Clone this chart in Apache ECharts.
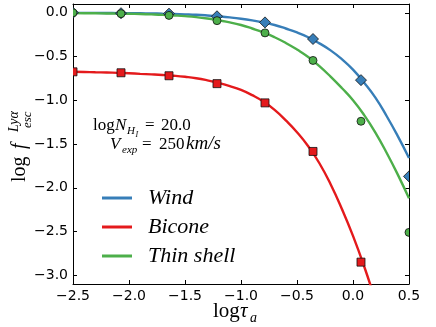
<!DOCTYPE html>
<html>
<head>
<meta charset="utf-8">
<script src="https://cdn.jsdelivr.net/npm/echarts@6/dist/echarts.min.js"></script>
<style>
  html, body { margin: 0; padding: 0; background: #fff; }
  #chart { width: 436px; height: 327px; }
</style>
</head>
<body>
<div id="chart"></div>
<script>
// log(tau_a) positions of the simulation points
const tauPts = [-2.5, -2.0714, -1.6429, -1.2143, -0.7857, -0.3571, 0.0714, 0.5];
const windPts = [0.0, -0.005, -0.01, -0.04, -0.11, -0.30, -0.77, -1.87];
const biconePts = [-0.675, -0.686, -0.72, -0.81, -1.03, -1.585, -2.85];
const shellPts = [0.0, -0.01, -0.03, -0.09, -0.23, -0.545, -1.24, -2.51];

// fitted curves, every 0.1 in log(tau_a)
const curveX = [-2.5, -2.4, -2.3, -2.2, -2.1, -2.0, -1.9, -1.8, -1.7, -1.6, -1.5, -1.4, -1.3, -1.2, -1.1,
  -1.0, -0.9, -0.8, -0.7, -0.6, -0.5, -0.4, -0.3, -0.2, -0.1, 0.0, 0.1, 0.2, 0.3, 0.4, 0.5];
const windCurve = [-0.001, -0.001, -0.002, -0.003, -0.004, -0.005, -0.006, -0.008, -0.011, -0.014, -0.018,
  -0.023, -0.031, -0.041, -0.053, -0.068, -0.087, -0.11, -0.14, -0.18, -0.225, -0.28, -0.35, -0.43, -0.53,
  -0.65, -0.80, -0.97, -1.18, -1.41, -1.66];
const biconeCurve = [-0.675, -0.677, -0.68, -0.683, -0.687, -0.692, -0.698, -0.704, -0.711, -0.72, -0.732,
  -0.748, -0.772, -0.802, -0.838, -0.882, -0.942, -1.015, -1.11, -1.23, -1.365, -1.525, -1.72, -1.96, -2.24,
  -2.55, -2.9, -3.29];
const shellCurve = [-0.004, -0.005, -0.006, -0.008, -0.010, -0.012, -0.015, -0.019, -0.024, -0.031, -0.039,
  -0.05, -0.066, -0.087, -0.11, -0.14, -0.18, -0.225, -0.28, -0.345, -0.42, -0.505, -0.61, -0.73, -0.86,
  -1.0, -1.17, -1.37, -1.6, -1.85, -2.12];

const yTicks = [-3.0, -2.5, -2.0, -1.5, -1.0, -0.5, 0.0];
const names = ['Wind', 'Bicone', 'Thin shell'];
const colors = ['#377eb8', '#e41a1c', '#4daf4a'];

const fmt = v => (v < 0 ? '\u2212' : '') + Math.abs(v).toFixed(1);
const pair = (xs, ys) => ys.map((y, i) => [xs[i], y]);

// math-ish text pieces, base = baseline
const tx = (x, base, s, size, it) => ({
  type: 'text', x: x, y: base - 0.34 * size, silent: true,
  style: {
    text: s, fill: '#000', verticalAlign: 'middle',
    font: (it ? 'italic ' : '') + size + 'px "Liberation Serif"'
  }
});

// marker shapes, clipped to the plot like matplotlib does
const markerSeries = (name, ys, kind, color) => ({
  name: name, type: 'custom', data: pair(tauPts, ys), clip: true, z: 3,
  renderItem: (params, api) => {
    const p = api.coord([api.value(0), api.value(1)]);
    const style = { fill: color, stroke: '#111', lineWidth: 0.8 };
    if (kind === 'diamond') {
      const r = 5.5;
      return { type: 'polygon', shape: { points: [[p[0], p[1] - r], [p[0] + r, p[1]], [p[0], p[1] + r], [p[0] - r, p[1]]] }, style: style };
    }
    if (kind === 'square') {
      return { type: 'rect', shape: { x: p[0] - 4, y: p[1] - 4, width: 8, height: 8 }, style: style };
    }
    return { type: 'circle', shape: { cx: p[0], cy: p[1], r: 4 }, style: style };
  }
});

const chart = echarts.init(document.getElementById('chart'));

const tick = (vals) => ({ show: true, inside: true, length: 4, customValues: vals, lineStyle: { color: '#000' } });
const line = { show: true, onZero: false, lineStyle: { color: '#000', width: 1 } };

const option = {
  backgroundColor: '#fff',
  animation: false,
  grid: { left: 73, right: 27, top: 4, bottom: 43 },
  xAxis: [
    {
      type: 'value', min: -2.5, max: 0.5, interval: 0.5, position: 'bottom',
      axisLine: line, splitLine: { show: false },
      axisTick: { show: true, inside: true, length: 4, lineStyle: { color: '#000' } },
      axisLabel: { formatter: fmt, color: '#000', fontSize: 14, fontFamily: 'DejaVu Sans', margin: 5 }
    },
    {
      type: 'value', min: -2.5, max: 0.5, interval: 0.5, position: 'top',
      axisLine: line, splitLine: { show: false },
      axisTick: { show: true, inside: true, length: 4, lineStyle: { color: '#000' } },
      axisLabel: { show: false }
    }
  ],
  yAxis: [
    {
      type: 'value', min: -3.1, max: 0.1, position: 'left',
      axisLine: line, splitLine: { show: false }, axisTick: tick(yTicks),
      axisLabel: { customValues: yTicks, formatter: fmt, color: '#000', fontSize: 14, fontFamily: 'DejaVu Sans', margin: 5 }
    },
    {
      type: 'value', min: -3.1, max: 0.1, position: 'right',
      axisLine: line, splitLine: { show: false }, axisTick: tick(yTicks),
      axisLabel: { show: false }
    }
  ],
  legend: {
    data: names,
    orient: 'vertical',
    left: 97, top: 182,
    icon: 'rect', itemWidth: 30, itemHeight: 3, itemGap: 7,
    textStyle: { fontFamily: 'Liberation Serif', fontStyle: 'italic', fontSize: 22, color: '#000', padding: [0, 0, 0, 11] }
  },
  series: [
    { name: 'Wind', type: 'line', data: pair(curveX, windCurve), smooth: true, showSymbol: false,
      lineStyle: { color: colors[0], width: 2.4 }, itemStyle: { color: colors[0] }, z: 2 },
    { name: 'Bicone', type: 'line', data: pair(curveX, biconeCurve), smooth: true, showSymbol: false,
      lineStyle: { color: colors[1], width: 2.4 }, itemStyle: { color: colors[1] }, z: 2 },
    { name: 'Thin shell', type: 'line', data: pair(curveX, shellCurve), smooth: true, showSymbol: false,
      lineStyle: { color: colors[2], width: 2.4 }, itemStyle: { color: colors[2] }, z: 2 },
    markerSeries('wind pts', windPts, 'diamond', colors[0]),
    markerSeries('bicone pts', biconePts, 'square', colors[1]),
    markerSeries('shell pts', shellPts, 'circle', colors[2])
  ],
  graphic: [
    // annotation
    tx(93, 131.5, 'log', 17, false),
    tx(115, 131.5, 'N', 17, true),
    tx(127, 135, 'H', 11, true),
    tx(135.5, 138, 'I', 8, true),
    tx(145, 131.5, '=', 17, false),
    tx(161, 131.5, '20.0', 17, false),
    tx(110, 150, 'V', 17, true),
    tx(122, 154, 'exp', 11, true),
    tx(142, 150, '=', 17, false),
    tx(159, 150, '250', 17, false),
    tx(186, 150, 'km/s', 19, true),
    // x axis label
    tx(213, 319, 'log', 21, false),
    tx(240, 319, '\u03c4', 21, true),
    tx(250, 323, 'a', 14, true),
    // y axis label (rotated)
    {
      type: 'group', x: 27, y: 182, rotation: Math.PI / 2,
      children: [
        tx(0, 0, 'log', 20, false),
        tx(33, 0, 'f', 20, true),
        tx(50, -8, 'Ly\u03b1', 14, true),
        tx(54, 5, 'esc', 13, true)
      ]
    }
  ]
};

chart.setOption(option);
</script>
</body>
</html>
